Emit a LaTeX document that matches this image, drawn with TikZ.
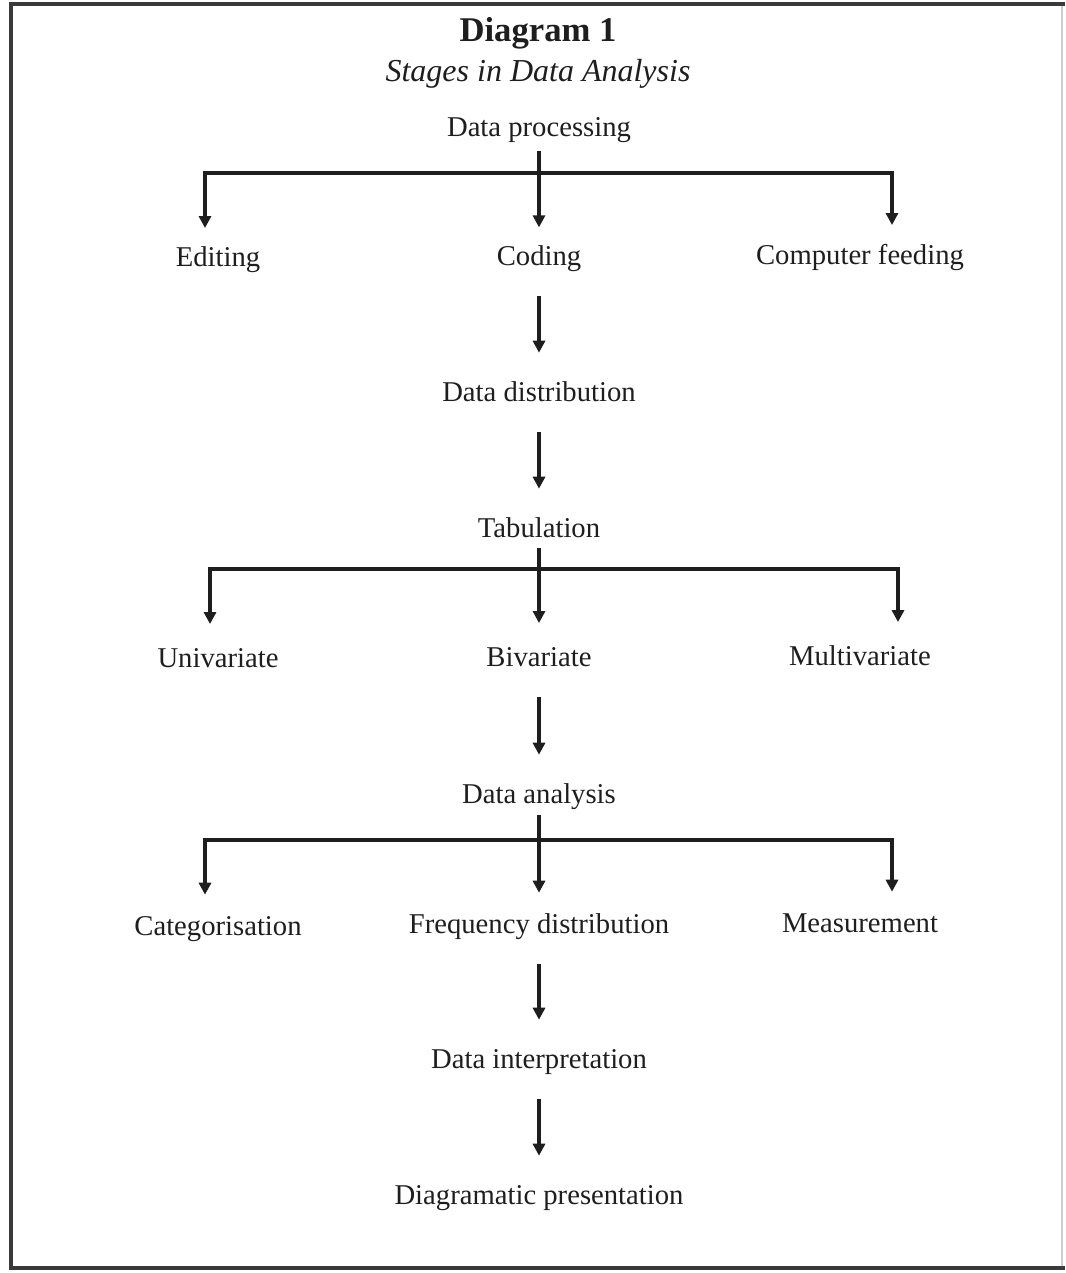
\documentclass[tikz,border=0pt]{standalone}
\usepackage{fontspec}
\setmainfont{Liberation Serif}
\usetikzlibrary{arrows.meta}
\definecolor{ink}{HTML}{1E1E1E}
\definecolor{frame}{HTML}{3A3A3A}
\begin{document}
\begin{tikzpicture}[x=0.75pt,y=-0.75pt,
  lbl/.style={anchor=base,inner sep=0pt,text height=15pt,text depth=0pt,text=ink,font=\fontsize{21.5}{24}\selectfont},
  ttl/.style={anchor=base,inner sep=0pt,text=ink,font=\fontsize{26}{30}\selectfont\bfseries},
  subttl/.style={anchor=base,inner sep=0pt,text=ink,font=\fontsize{24}{28}\selectfont\itshape},
  ln/.style={draw=ink,line width=2.4pt},
  arr/.style={ln,-{Triangle[width=9pt,length=9pt]}},
  single/.style={arr,shorten <=23pt,shorten >=21pt}]
\useasboundingbox (0,0) rectangle (1065,1273);
% frame
\draw[frame,line width=2.6pt] (1065,4) -- (11,4) -- (11,1268) -- (1065,1268);
\draw[black!20,line width=1pt] (1062,6) -- (1062,1266);

% titles
\node[ttl] (title) at (538,42) {Diagram 1};
\node[subttl] (sub) at (538,82) {Stages in Data Analysis};

% labels
\node[lbl] (dp) at (539,137) {Data processing};
\node[lbl] (edit) at (218,267) {Editing};
\node[lbl] (cod) at (539,265) {Coding};
\node[lbl] (comp) at (860,264) {Computer feeding};
\node[lbl] (dd) at (539,401) {Data distribution};
\node[lbl] (tab) at (539,537) {Tabulation};
\node[lbl] (uni) at (218,667) {Univariate};
\node[lbl] (biv) at (539,666) {Bivariate};
\node[lbl] (multi) at (860,665) {Multivariate};
\node[lbl] (da) at (539,803) {Data analysis};
\node[lbl] (cat) at (218,935) {Categorisation};
\node[lbl] (freq) at (539,933) {Frequency distribution};
\node[lbl] (meas) at (860,932) {Measurement};
\node[lbl] (di) at (539,1068) {Data interpretation};
\node[lbl] (pres) at (539,1204) {Diagramatic presentation};

% branch 1
\coordinate (j1) at (539,173);
\coordinate (l1) at (205,173);
\coordinate (r1) at (892,173);
\draw[arr,shorten <=10pt,shorten >=13pt] (dp.south) -- (cod.north);
\draw[arr,shorten >=14pt] (j1) -- (l1) -- (l1 |- edit.north);
\draw[arr,shorten >=14pt] (j1) -- (r1) -- (r1 |- comp.north);

% singles
\draw[single] (cod.south) -- (dd.north);
\draw[single] (dd.south) -- (tab.north);

% branch 2
\coordinate (j2) at (539,569);
\coordinate (l2) at (210,569);
\coordinate (r2) at (898,569);
\draw[arr,shorten <=8pt,shorten >=17pt] (tab.south) -- (biv.north);
\draw[arr,shorten >=17pt] (j2) -- (l2) -- (l2 |- uni.north);
\draw[arr,shorten >=17pt] (j2) -- (r2) -- (r2 |- multi.north);

\draw[single] (biv.south) -- (da.north);

% branch 3
\coordinate (j3) at (539,840);
\coordinate (l3) at (205,840);
\coordinate (r3) at (892,840);
\draw[arr,shorten <=9pt,shorten >=15pt] (da.south) -- (freq.north);
\draw[arr,shorten >=15pt] (j3) -- (l3) -- (l3 |- cat.north);
\draw[arr,shorten >=15pt] (j3) -- (r3) -- (r3 |- meas.north);

\draw[single] (freq.south) -- (di.north);
\draw[single] (di.south) -- (pres.north);
\end{tikzpicture}
\end{document}
